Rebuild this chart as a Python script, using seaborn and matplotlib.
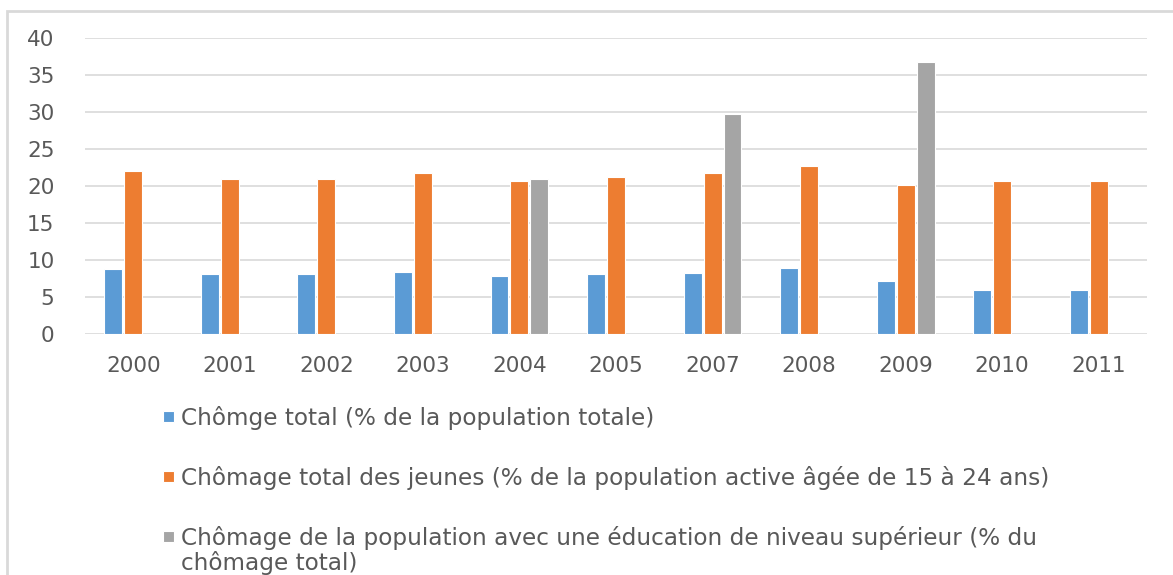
import numpy as np
import pandas as pd
import matplotlib
matplotlib.use("Agg")
import matplotlib.pyplot as plt
from matplotlib.patches import Rectangle
from matplotlib.legend_handler import HandlerPatch
import seaborn as sns

# Data
annees = ["2000", "2001", "2002", "2003", "2004", "2005",
          "2007", "2008", "2009", "2010", "2011"]
chomage_total = [8.8, 8.1, 8.1, 8.4, 7.8, 8.1, 8.25, 8.9, 7.1, 6.0, 6.0]
chomage_jeunes = [22.0, 20.9, 21.0, 21.7, 20.7, 21.2, 21.7, 22.7, 20.2, 20.7, 20.7]
chomage_sup = [np.nan, np.nan, np.nan, np.nan, 21.0, np.nan,
               29.7, np.nan, 36.7, np.nan, np.nan]

series = [
    "Chômge total (% de la population totale)",
    "Chômage total des jeunes (% de la population active âgée de 15 à 24 ans)",
    "Chômage de la population avec une éducation de niveau supérieur (% du\nchômage total)",
]
couleurs = ["#5B9BD5", "#ED7D31", "#A5A5A5"]

df = pd.DataFrame({
    "annee": annees * 3,
    "valeur": chomage_total + chomage_jeunes + chomage_sup,
    "serie": [series[0]] * len(annees) + [series[1]] * len(annees) + [series[2]] * len(annees),
})

sns.set_theme(style="white")
plt.rcParams["font.family"] = ["DejaVu Sans"]
texte = "#595959"
grille = "#D9D9D9"

fig = plt.figure(figsize=(11.73, 5.75), dpi=100)
ax = fig.add_axes([85 / 1173, 1 - 334 / 575, (1147 - 85) / 1173, (334 - 38) / 575])

sns.barplot(data=df, x="annee", y="valeur", hue="serie", hue_order=series,
            palette=couleurs, saturation=1, width=0.62, gap=0.1,
            edgecolor="white", linewidth=0.8, ax=ax)

handles, labels = ax.get_legend_handles_labels()
ax.get_legend().remove()

ax.set_ylim(0, 40)
ax.set_xlim(-0.5, len(annees) - 0.5)
ax.set_yticks(np.arange(0, 41, 5))
ax.yaxis.grid(True, color=grille, linewidth=1.2)
ax.set_axisbelow(True)
for s in ax.spines.values():
    s.set_visible(False)
ax.set_xlabel("")
ax.set_ylabel("")
ax.tick_params(axis="x", length=0, pad=16, labelsize=15.5, labelcolor=texte)
ax.tick_params(axis="y", length=0, pad=22, labelsize=15.5, labelcolor=texte)

# Outer chart border
fig.patches.append(Rectangle((7 / 1173, -0.05), 1.1, 1 - 11 / 575 + 0.05,
                             transform=fig.transFigure, fill=False,
                             edgecolor=grille, linewidth=2))


def carre(legend, orig_handle, xdescent, ydescent, width, height, fontsize):
    # small square centred in a taller handle box
    return Rectangle((-xdescent, -ydescent + (height - width) / 2), width, width)


leg = fig.legend(handles, labels, loc="upper left",
                 bbox_to_anchor=(142 / 1173, 1 - 385 / 575),
                 frameon=False, fontsize=16.7, labelcolor=texte,
                 handlelength=0.47, handleheight=1.0, handletextpad=0.3,
                 labelspacing=1.55,
                 handler_map={Rectangle: HandlerPatch(patch_func=carre)})

for t in leg.get_texts():
    t.set_linespacing(1.05)

# keep the square next to the first line of wrapped labels
for col in leg._legend_handle_box.get_children():
    for row in col.get_children():
        row.align = "top"

fig.savefig("out.png", dpi=100)
